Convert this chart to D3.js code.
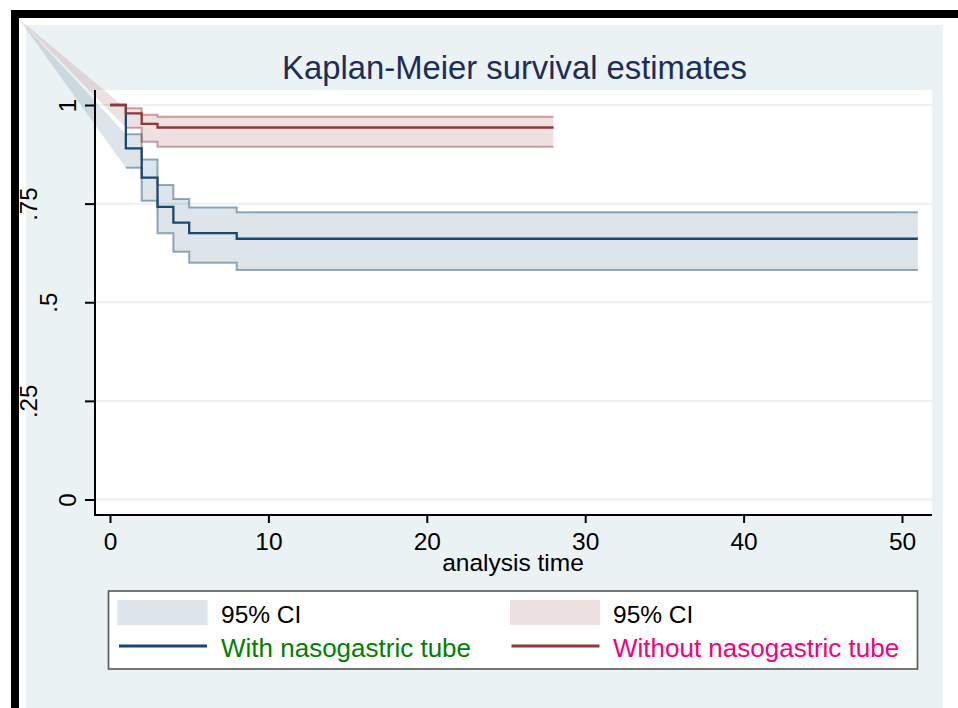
<!doctype html>
<html>
  <head>
    <meta charset="utf-8">
    <title>Kaplan-Meier survival estimates</title>
    <script src="https://cdnjs.cloudflare.com/ajax/libs/d3/7.8.5/d3.min.js"></script>
    <style>
      body { margin: 0; background: #fff; }
      svg text { font-family: "Liberation Sans", Arial, sans-serif; }
    </style>
  </head>
  <body>
    <div id="km-chart"></div>

    <script>
      // survival estimates
      // group 1: with nasogastric tube
      const withTime = [0, 1, 2, 3, 4, 5, 8, 51];
      const withSurv = [1, 0.890, 0.816, 0.742, 0.702, 0.675, 0.661, 0.661];
      const withLo   = [null, 0.841, 0.757, 0.675, 0.628, 0.600, 0.582, 0.582];
      const withHi   = [null, 0.926, 0.862, 0.797, 0.762, 0.740, 0.728, 0.728];

      // group 2: without nasogastric tube
      const withoutTime = [0, 1, 2, 3, 28];
      const withoutSurv = [1, 0.979, 0.952, 0.943, 0.943];
      const withoutLo   = [null, 0.9425, 0.907, 0.894, 0.894];
      const withoutHi   = [null, 0.992, 0.975, 0.970, 0.970];

      const xTicks = [0, 10, 20, 30, 40, 50];
      const yTicks = [0, 0.25, 0.5, 0.75, 1];
      const yTickLabels = ["0", ".25", ".5", ".75", "1"];

      const legendLabels = ["95% CI", "With nasogastric tube", "95% CI", "Without nasogastric tube"];

      const W = 958, H = 708;
      const navy = "#1a476f", maroon = "#90353b";
      const bgBlue = "#eaf2f3";

      const svg = d3.select("#km-chart")
        .append("svg")
        .attr("width", W)
        .attr("height", H);

      // outer frame: white page, black border on top and left, light blue graph region
      svg.append("rect").attr("width", W).attr("height", H).attr("fill", "#fff");
      svg.append("rect").attr("x", 26).attr("y", 25).attr("width", 917).attr("height", H - 25).attr("fill", bgBlue);
      svg.append("rect").attr("x", 11).attr("y", 10).attr("width", W - 11).attr("height", 8).attr("fill", "#000");
      svg.append("rect").attr("x", 11).attr("y", 10).attr("width", 8).attr("height", H - 10).attr("fill", "#000");

      // plot region
      const plotL = 95, plotR = 932, plotT = 90, plotB = 515;
      svg.append("rect")
        .attr("x", plotL).attr("y", plotT)
        .attr("width", plotR - plotL).attr("height", plotB - plotT)
        .attr("fill", "#fff");

      const x = d3.scaleLinear().domain([0, 50]).range([110, 902]);
      const y = d3.scaleLinear().domain([0, 1]).range([499.5, 105]);

      // gridlines
      svg.append("g")
        .selectAll("line")
        .data(yTicks)
        .join("line")
        .attr("x1", plotL).attr("x2", plotR)
        .attr("y1", d => y(d)).attr("y2", d => y(d))
        .attr("stroke", bgBlue)
        .attr("stroke-width", 2);

      const toPts = (t, v) => t.map((d, i) => ({ t: d, v: v[i] }));

      const stepLine = d3.line()
        .x(d => x(d.t))
        .y(d => y(d.v))
        .curve(d3.curveStepAfter);

      const band = d3.area()
        .x(d => x(d.t))
        .y0(d => y(d.lo))
        .y1(d => y(d.hi))
        .curve(d3.curveStepAfter);

      const groups = [
        { time: withTime, surv: withSurv, lo: withLo, hi: withHi, color: navy },
        { time: withoutTime, surv: withoutSurv, lo: withoutLo, hi: withoutHi, color: maroon }
      ];

      // confidence bands (plus the odd wedge back to the corner that stata left in)
      groups.forEach(g => {
        const pts = g.time.map((t, i) => ({ t: t, lo: g.lo[i], hi: g.hi[i] }))
          .filter(d => d.lo != null);

        svg.append("path")
          .attr("d", `M19,19L${x(pts[0].t)},${y(pts[0].hi)}L${x(pts[0].t)},${y(pts[0].lo)}Z`)
          .attr("fill", g.color)
          .attr("fill-opacity", 0.15);

        svg.append("path")
          .attr("d", band(pts))
          .attr("fill", g.color)
          .attr("fill-opacity", 0.15);

        ["lo", "hi"].forEach(k => {
          svg.append("path")
            .attr("d", stepLine(pts.map(d => ({ t: d.t, v: d[k] }))))
            .attr("fill", "none")
            .attr("stroke", g.color)
            .attr("stroke-opacity", 0.45)
            .attr("stroke-width", 2);
        });
      });

      // survival step lines
      groups.forEach(g => {
        svg.append("path")
          .attr("d", stepLine(toPts(g.time, g.surv)))
          .attr("fill", "none")
          .attr("stroke", g.color)
          .attr("stroke-width", 2.3);
      });

      // axes
      const xAxis = svg.append("g")
        .attr("transform", `translate(0,${plotB})`)
        .call(d3.axisBottom(x).tickValues(xTicks).tickSize(8).tickPadding(10));
      xAxis.select(".domain").remove();
      xAxis.selectAll("line").attr("stroke", "#000").attr("stroke-width", 2);
      xAxis.selectAll("text").attr("font-size", 24.5).attr("fill", "#000");

      const yAxis = svg.append("g")
        .attr("transform", `translate(${plotL},0)`)
        .call(d3.axisLeft(y).tickValues(yTicks).tickSize(10)
          .tickFormat((d, i) => yTickLabels[i]));
      yAxis.select(".domain").remove();
      yAxis.selectAll("line").attr("stroke", "#000").attr("stroke-width", 2);
      yAxis.selectAll("text")
        .attr("x", null).attr("dy", null)
        .attr("font-size", 24)
        .attr("fill", "#000")
        .attr("text-anchor", "middle")
        .attr("transform", (d, i) => `translate(${-19 - 19.5 * (yTickLabels[i].length - 1)},0) rotate(-90)`);

      svg.append("line")
        .attr("x1", plotL).attr("x2", plotL)
        .attr("y1", plotT).attr("y2", plotB + 1)
        .attr("stroke", "#000").attr("stroke-width", 2);
      svg.append("line")
        .attr("x1", plotL - 1).attr("x2", plotR)
        .attr("y1", plotB).attr("y2", plotB)
        .attr("stroke", "#000").attr("stroke-width", 2);

      // titles
      svg.append("text")
        .attr("x", 514.5).attr("y", 79)
        .attr("text-anchor", "middle")
        .attr("font-size", 32.8)
        .attr("fill", "#1c2d5a")
        .text("Kaplan-Meier survival estimates");

      svg.append("text")
        .attr("x", 513).attr("y", 571)
        .attr("text-anchor", "middle")
        .attr("font-size", 24.5)
        .attr("fill", "#000")
        .text("analysis time");

      // legend
      const legend = svg.append("g");
      legend.append("rect")
        .attr("x", 108.5).attr("y", 591)
        .attr("width", 809).attr("height", 78)
        .attr("fill", "#fff")
        .attr("stroke", "#555")
        .attr("stroke-width", 1.6);

      const cols = [
        { x0: 117.5, tx: 221, color: navy, labels: [legendLabels[0], legendLabels[1]], textColor: "#008000" },
        { x0: 510, tx: 613, color: maroon, labels: [legendLabels[2], legendLabels[3]], textColor: "#f5007e" }
      ];

      cols.forEach(c => {
        legend.append("rect")
          .attr("x", c.x0).attr("y", 600)
          .attr("width", 90).attr("height", 25)
          .attr("fill", c.color).attr("fill-opacity", 0.15);
        legend.append("line")
          .attr("x1", c.x0 + 1.5).attr("x2", c.x0 + 89.5)
          .attr("y1", 646).attr("y2", 646)
          .attr("stroke", c.color).attr("stroke-width", 3);
        legend.append("text")
          .attr("x", c.tx).attr("y", 622.5)
          .attr("font-size", 24.5).attr("fill", "#000")
          .text(c.labels[0]);
        legend.append("text")
          .attr("x", c.tx).attr("y", 657)
          .attr("font-size", 26).attr("fill", c.textColor)
          .text(c.labels[1]);
      });
    </script>
  </body>
</html>
